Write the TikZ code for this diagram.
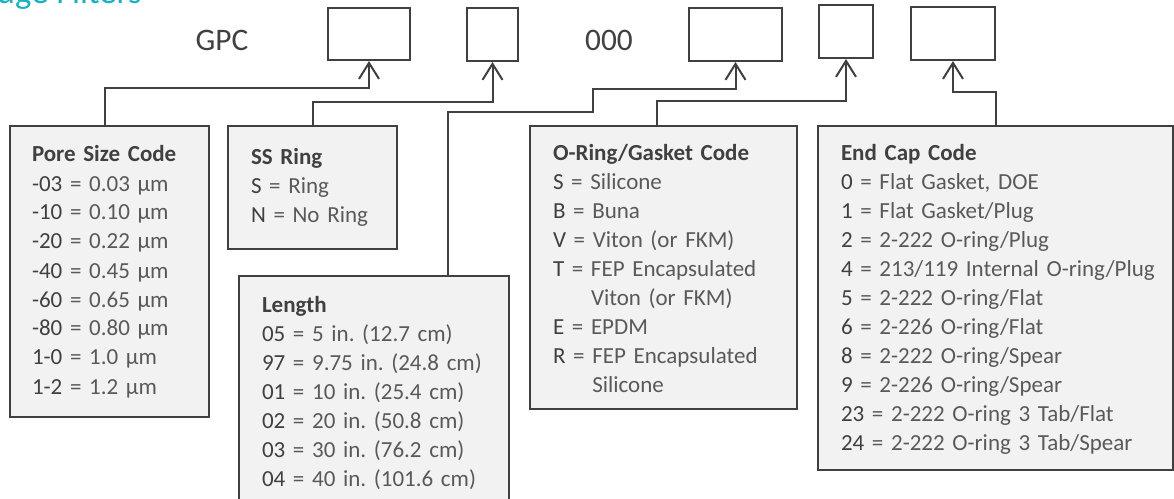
\documentclass[tikz,border=0pt]{standalone}
\usepackage{fontspec}
\setmainfont{Carlito}
\usetikzlibrary{arrows.meta, positioning, calc, fit}
\definecolor{cdark}{HTML}{404040}
\definecolor{clight}{HTML}{595959}
\definecolor{cfill}{HTML}{F2F2F2}
\definecolor{cteal}{HTML}{1BAFC0}
\tikzset{
  every picture/.style={line width=1.5pt},
  codebox/.style={draw=cdark, fill=white, inner sep=0pt},
  keybox/.style={draw=cdark, fill=cfill, inner sep=0pt},
  keytext/.style={anchor=north west, inner sep=0pt, text width=9cm, align=left, text=cdark, font=\fontsize{17.25}{21.75}\selectfont},
  link/.style={draw=cdark, -{Straight Barb[length=12pt, width=15pt]}},
  pnlabel/.style={text=cdark, font=\fontsize{23.5}{28}\selectfont},
}
\newcommand{\kv}[2]{#1 \textcolor{clight}{= #2}}
\newcommand{\hd}[1]{\strut\textbf{#1}}
\frenchspacing

\begin{document}
\begin{tikzpicture}[x=0.75pt, y=-0.75pt]
  \useasboundingbox (0,0) rectangle (1174,499);
  \node[anchor=base west, inner sep=0pt, text=cteal, font=\fontsize{26}{30}\selectfont] (title) at (-4,4) {dge Filters};
  % part number fields
  \node[pnlabel] (gpc) at (222,40) {GPC};
  \node[pnlabel] (zeros) at (609,40) {000};
  \node[codebox, fit={(328,8) (410,60)}] (c1) {};
  \node[codebox, fit={(467,8) (518,61)}] (c2) {};
  \node[codebox, fit={(689,8) (782,61)}] (c3) {};
  \node[codebox, fit={(819,5) (873,58)}] (c4) {};
  \node[codebox, fit={(911,7) (995,60)}] (c5) {};
  % legend boxes
  \node[keybox, fit={(10,126) (209,417)}] (pore) {};
  \node[keybox, fit={(228,126) (397,249)}] (ss) {};
  \node[keybox, fit={(239,276) (509,530)}] (length) {};
  \node[keybox, fit={(530,126) (797,409)}] (oring) {};
  \node[keybox, fit={(818,126) (1173,470)}] (endcap) {};
  \node[keytext] (poretxt) at (31,140.7) {\hd{Pore Size Code}\\
    \kv{-03}{0.03 µm}\\ \kv{-10}{0.10 µm}\\ \kv{-20}{0.22 µm}\\ \kv{-40}{0.45 µm}\\
    \kv{-60}{0.65 µm}\\ \kv{-80}{0.80 µm}\\ \kv{1-0}{1.0 µm}\\ \kv{1-2}{1.2 µm}};
  \node[keytext] (sstxt) at (250,143.7) {\hd{SS Ring}\\ \kv{S}{Ring}\\ \kv{N}{No Ring}};
  \node[keytext] (lengthtxt) at (261,290.7) {\hd{Length}\\
    \kv{05}{5 in. (12.7 cm)}\\ \kv{97}{9.75 in. (24.8 cm)}\\ \kv{01}{10 in. (25.4 cm)}\\
    \kv{02}{20 in. (50.8 cm)}\\ \kv{03}{30 in. (76.2 cm)}\\ \kv{04}{40 in. (101.6 cm)}};
  \node[keytext] (oringtxt) at (552,139.7) {\hd{O-Ring/Gasket Code}\\
    \kv{S}{Silicone}\\ \kv{B}{Buna}\\ \kv{V}{Viton (or FKM)}\\ \kv{T}{FEP Encapsulated}\\
    \hphantom{T = }\textcolor{clight}{Viton (or FKM)}\\ \kv{E}{EPDM}\\ \kv{R}{FEP Encapsulated}\\
    \hphantom{R = }\textcolor{clight}{Silicone}};
  \node[keytext] (endcaptxt) at (840,139.7) {\hd{End Cap Code}\\
    \kv{0}{Flat Gasket, DOE}\\ \kv{1}{Flat Gasket/Plug}\\ \kv{2}{2-222 O-ring/Plug}\\
    \kv{4}{213/119 Internal O-ring/Plug}\\ \kv{5}{2-222 O-ring/Flat}\\ \kv{6}{2-226 O-ring/Flat}\\
    \kv{8}{2-222 O-ring/Spear}\\ \kv{9}{2-226 O-ring/Spear}\\ \kv{23}{2-222 O-ring 3 Tab/Flat}\\
    \kv{24}{2-222 O-ring 3 Tab/Spear}};
  % connectors
  \draw[link] ($(pore.north west)+(96,0)$) |- ($(c1.south)+(0,27)$) -- (c1.south);
  \draw[link] (ss.north) |- ($(c2.south)+(0,40)$) -- (c2.south);
  \draw[link] ($(length.north west)+(210,0)$) -- ++(0,-163) -- ++(145,0) |- ($(c3.south)+(0,27)$) -- (c3.south);
  \draw[link] ($(oring.north west)+(128,0)$) |- ($(c4.south)+(0,42)$) -- (c4.south);
  \draw[link] (endcap.north) -- ++(0,-33) -| (c5.south);
\end{tikzpicture}
\end{document}
